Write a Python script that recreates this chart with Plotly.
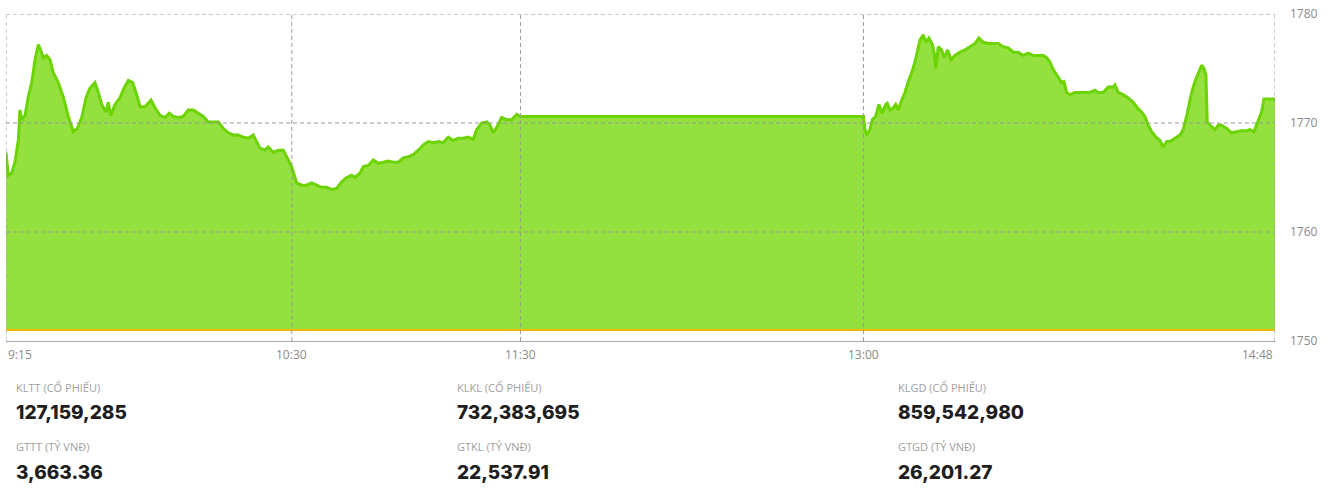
import plotly.graph_objects as go

DAY = "2024-01-01 "

# ---- data (time, index value) ----
times = [
    "09:15:00", "09:15:36", "09:16:30", "09:17:20", "09:18:14", "09:18:40", "09:19:07", "09:20:00",
    "09:20:51", "09:21:45", "09:22:37", "09:23:29", "09:24:06", "09:24:47", "09:25:41", "09:26:33",
    "09:27:25", "09:28:43", "09:30:02", "09:31:21", "09:32:40", "09:33:43", "09:34:52", "09:35:59",
    "09:37:02", "09:38:21", "09:39:13", "09:40:07", "09:41:14", "09:41:50", "09:42:28", "09:43:36",
    "09:44:55", "09:45:58", "09:47:05", "09:48:15", "09:49:18", "09:50:10", "09:51:28", "09:53:03",
    "09:54:06", "09:55:25", "09:56:43", "09:57:51", "09:58:54", "10:00:13", "10:01:31", "10:02:50",
    "10:04:09", "10:05:28", "10:06:46", "10:08:05", "10:09:23", "10:10:43", "10:12:01", "10:13:20",
    "10:14:38", "10:15:57", "10:17:16", "10:18:35", "10:19:53", "10:20:47", "10:21:39", "10:22:58",
    "10:23:50", "10:25:08", "10:26:27", "10:27:46", "10:28:40", "10:29:58", "10:30:23", "10:31:17",
    "10:32:35", "10:33:54", "10:35:13", "10:36:32", "10:37:50", "10:39:09", "10:40:28", "10:41:46",
    "10:43:05", "10:44:24", "10:45:43", "10:46:35", "10:47:53", "10:48:46", "10:50:04", "10:51:23",
    "10:52:41", "10:54:00", "10:55:19", "10:56:38", "10:57:56", "10:59:15", "11:00:34", "11:01:52",
    "11:03:11", "11:04:30", "11:05:49", "11:07:07", "11:08:26", "11:09:45", "11:11:04", "11:12:22",
    "11:13:41", "11:14:59", "11:16:19", "11:17:37", "11:18:31", "11:19:49", "11:21:08", "11:22:00",
    "11:22:52", "11:23:46", "11:25:04", "11:26:23", "11:27:41", "11:29:00", "11:30:00",
    "13:00:00", "13:00:24", "13:00:50", "13:01:43", "13:02:19", "13:03:13", "13:04:04", "13:04:56",
    "13:05:50", "13:06:15", "13:06:58", "13:07:50", "13:08:28", "13:09:08", "13:10:02", "13:10:54",
    "13:11:46", "13:12:40", "13:13:31", "13:14:14", "13:14:50", "13:15:42", "13:16:20", "13:17:11",
    "13:18:04", "13:18:35", "13:19:02", "13:19:38", "13:20:31", "13:21:13", "13:22:06", "13:22:58",
    "13:24:01", "13:25:20", "13:26:38", "13:27:57", "13:29:16", "13:30:19", "13:31:26", "13:32:45",
    "13:34:04", "13:35:22", "13:36:41", "13:38:00", "13:39:19", "13:40:37", "13:41:56", "13:43:15",
    "13:44:34", "13:45:52", "13:47:11", "13:48:05", "13:48:56", "13:49:49", "13:51:07", "13:52:01",
    "13:52:37", "13:53:20", "13:54:11", "13:55:30", "13:56:49", "13:58:08", "13:59:26", "14:00:45",
    "14:01:37", "14:02:56", "14:04:14", "14:05:33", "14:06:00", "14:06:52", "14:08:10", "14:09:29",
    "14:10:48", "14:11:51", "14:13:00", "14:13:52", "14:14:44", "14:15:38", "14:16:46", "14:17:49",
    "14:18:40", "14:19:34", "14:20:26", "14:21:44", "14:23:04", "14:23:55", "14:24:49", "14:25:30",
    "14:26:08", "14:26:59", "14:27:52", "14:28:45", "14:29:21", "14:29:53", "14:30:13", "14:30:56",
    "14:32:14", "14:33:06", "14:33:59", "14:35:19", "14:36:37", "14:37:56", "14:39:14", "14:40:33",
    "14:41:25", "14:42:28", "14:43:36", "14:44:29", "14:45:06", "14:48:00",
]
values = [
    1767.3, 1765.2, 1765.4, 1766.4, 1768.4, 1771.2, 1770.3, 1770.7,
    1772.4, 1773.7, 1775.8, 1777.2, 1776.7, 1776.0, 1776.2, 1775.8,
    1774.6, 1773.7, 1772.4, 1770.6, 1769.2, 1769.5, 1770.5, 1772.3,
    1773.2, 1773.7, 1772.8, 1771.7, 1771.0, 1771.9, 1770.7, 1771.7,
    1772.3, 1773.2, 1773.9, 1773.7, 1772.6, 1771.5, 1771.5, 1772.1,
    1771.4, 1770.7, 1770.5, 1770.9, 1770.6, 1770.5, 1770.6, 1771.2,
    1771.2, 1770.9, 1770.6, 1770.1, 1770.1, 1770.1, 1769.5, 1769.1,
    1768.9, 1768.9, 1768.7, 1768.6, 1768.9, 1768.3, 1767.7, 1767.5,
    1767.8, 1767.3, 1767.5, 1767.5, 1766.9, 1766.0, 1765.5, 1764.5,
    1764.3, 1764.3, 1764.5, 1764.3, 1764.1, 1764.1, 1763.9, 1764.0,
    1764.6, 1765.0, 1765.2, 1765.0, 1765.4, 1766.0, 1766.1, 1766.6,
    1766.3, 1766.4, 1766.5, 1766.4, 1766.4, 1766.8, 1766.9, 1767.1,
    1767.5, 1768.0, 1768.3, 1768.2, 1768.3, 1768.2, 1768.7, 1768.4,
    1768.6, 1768.6, 1768.7, 1768.5, 1769.4, 1770.0, 1770.1, 1769.8,
    1769.1, 1769.6, 1770.5, 1770.3, 1770.3, 1770.8, 1770.6,
    1770.6, 1769.4, 1768.9, 1769.4, 1770.3, 1770.6, 1771.7, 1770.9,
    1771.7, 1771.8, 1771.2, 1771.4, 1771.7, 1771.2, 1772.1, 1772.8,
    1773.8, 1774.6, 1775.6, 1776.7, 1777.6, 1778.1, 1777.4, 1777.8,
    1777.2, 1776.4, 1775.0, 1777.0, 1776.7, 1776.0, 1776.7, 1775.8,
    1776.2, 1776.5, 1776.7, 1777.0, 1777.3, 1777.8, 1777.4, 1777.3,
    1777.3, 1777.3, 1777.0, 1776.9, 1776.5, 1776.5, 1776.2, 1776.4,
    1776.2, 1776.2, 1776.2, 1776.0, 1775.6, 1774.9, 1774.2, 1773.7,
    1773.8, 1772.8, 1772.6, 1772.8, 1772.8, 1772.8, 1772.8, 1773.0,
    1772.8, 1772.8, 1773.3, 1773.3, 1773.5, 1772.8, 1772.6, 1772.3,
    1771.9, 1771.4, 1771.0, 1770.6, 1769.8, 1769.2, 1768.7, 1768.4,
    1767.8, 1768.3, 1768.3, 1768.6, 1768.9, 1769.4, 1770.6, 1771.8,
    1772.8, 1773.8, 1774.6, 1775.3, 1775.0, 1774.4, 1770.1, 1769.8,
    1769.4, 1769.8, 1769.8, 1769.5, 1769.1, 1769.2, 1769.3, 1769.3,
    1769.4, 1769.2, 1770.3, 1771.0, 1772.2, 1772.2,
]

baseline = 1751.0
y_ticks = [1750, 1760, 1770, 1780]
x_ticks = ["09:15", "10:30", "11:30", "13:00", "14:48"]
x_tick_text = ["9:15", "10:30", "11:30", "13:00", "14:48"]

stat_labels = ["KLTT (CỔ PHIẾU)", "KLKL (CỔ PHIẾU)", "KLGD (CỔ PHIẾU)",
               "GTTT (TỶ VNĐ)", "GTKL (TỶ VNĐ)", "GTGD (TỶ VNĐ)"]
stat_values = ["127,159,285", "732,383,695", "859,542,980",
               "3,663.36", "22,537.91", "26,201.27"]

xs = [DAY + t for t in times]
xt = [DAY + t + ":00" for t in x_ticks]

fig = go.Figure()
fig.add_trace(go.Scatter(x=[xs[0], xs[-1]], y=[baseline, baseline], mode="lines",
                         line=dict(color="rgba(0,0,0,0)", width=0), hoverinfo="skip",
                         showlegend=False))
fig.add_trace(go.Scatter(x=xs, y=values, mode="lines", fill="tonexty",
                         fillcolor="#93E03F", line=dict(color="#6CD400", width=3),
                         showlegend=False))
fig.add_trace(go.Scatter(x=[xs[0], xs[-1]], y=[baseline, baseline], mode="lines",
                         line=dict(color="#F2B600", width=2), showlegend=False))

fig.update_xaxes(type="date", range=[xt[0], xt[-1]], showgrid=False, showticklabels=False,
                 zeroline=False, showline=True, linecolor="#a8a8a8", linewidth=1,
                 ticks="", layer="above traces")
fig.update_yaxes(range=[1750, 1780], tickvals=y_ticks, side="right", zeroline=False,
                 showgrid=False, showline=False, ticks="", ticklabelstandoff=14,
                 tickfont=dict(family="Open Sans", size=12, color="#8a8a8a"))

# dashed grid drawn above the filled area, as in the reference
dash = dict(color="#9a9a9a", width=1, dash="4px,3px")
for yv in y_ticks[1:]:
    fig.add_shape(type="line", xref="paper", x0=0, x1=1, yref="y", y0=yv, y1=yv,
                  line=dash, layer="above")
for t in xt:
    fig.add_shape(type="line", xref="x", x0=t, x1=t, yref="paper", y0=0, y1=1,
                  line=dash, layer="above")

anchors = ["left", "center", "center", "center", "right"]
for t, txt, a in zip(xt, x_tick_text, anchors):
    fig.add_annotation(x=t, xref="x", y=-0.04, yref="paper", text=txt, showarrow=False,
                       xanchor=a, yanchor="middle",
                       font=dict(family="Open Sans", size=12, color="#8a8a8a"))

col_x = [0.0063, 0.3538, 0.7013]
row_label_y = [-0.1437, -0.324]
row_value_y = [-0.220, -0.401]
for i, (lab, val) in enumerate(zip(stat_labels, stat_values)):
    r, c = divmod(i, 3)
    fig.add_annotation(x=col_x[c], xref="paper", y=row_label_y[r], yref="paper", text=lab,
                       showarrow=False, xanchor="left", yanchor="middle",
                       font=dict(family="Open Sans", size=11, color="#a0a0a0"))
    fig.add_annotation(x=col_x[c], xref="paper", y=row_value_y[r], yref="paper",
                       text=val, showarrow=False, xanchor="left",
                       yanchor="middle", font=dict(family="Inter", size=19, color="#1e1e1e",
                                                    weight=800))

fig.update_layout(width=1338, height=493, margin=dict(l=6, r=63, t=14, b=152),
                  paper_bgcolor="white", plot_bgcolor="white", showlegend=False,
                  hovermode=False)
fig.write_html("out.html", config={"displayModeBar": False},
               post_script="document.body.style.margin='0';")
